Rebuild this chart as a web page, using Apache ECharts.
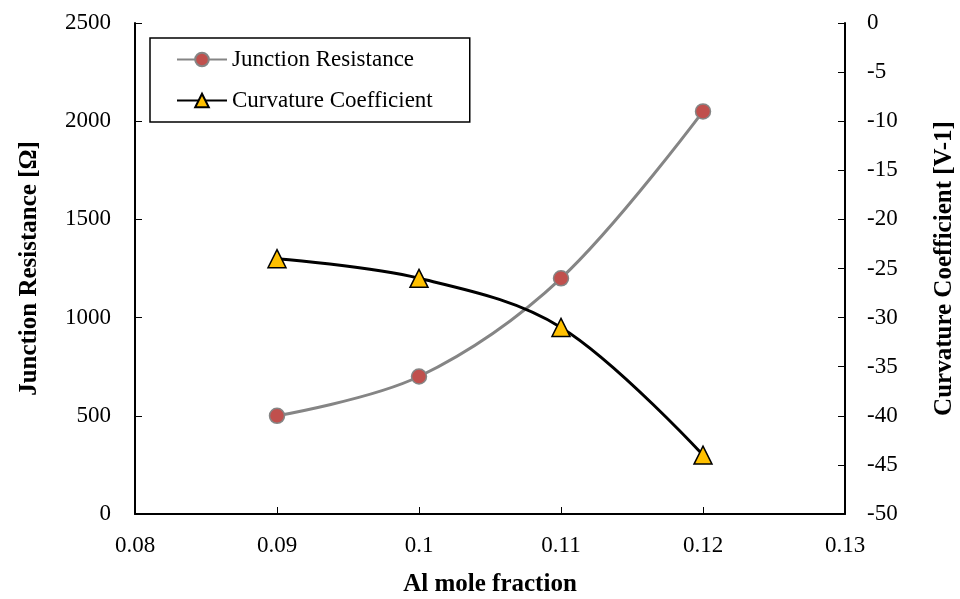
<!DOCTYPE html>
<html><head><meta charset="utf-8">
<script src="https://cdn.jsdelivr.net/npm/echarts@6/dist/echarts.min.js"></script>
<style>html,body{margin:0;padding:0;background:#fff}#c{width:960px;height:599px}</style>
</head><body><div id="c"></div>
<script>
const xValues = [0.09, 0.10, 0.11, 0.12];
const junctionResistance = [500, 700, 1200, 2050];
const curvatureCoefficient = [-24, -26, -31, -44];
const seriesNames = ['Junction Resistance', 'Curvature Coefficient'];

const F = 'Liberation Serif, Times New Roman, serif';
const chart = echarts.init(document.getElementById('c'));
const axisLine = {show: true, lineStyle: {color: '#000', width: 2}};
const tick = {show: true, inside: true, length: 7, lineStyle: {color: '#000', width: 1}};
const titleStyle = {fontFamily: F, fontSize: 25, fontWeight: 'bold', color: '#000'};
chart.setOption({
  animation: false,
  backgroundColor: '#fff',
  grid: {left: 135, right: 115, top: 23, bottom: 85, containLabel: false, outerBoundsMode: 'none'},
  legend: {
    left: 150, top: 38, orient: 'vertical',
    padding: [10, 37, 10, 26], itemGap: 18,
    borderColor: '#000', borderWidth: 1.5,
    itemWidth: 50, itemHeight: 17,
    textStyle: {fontFamily: F, fontSize: 23, color: '#000'},
    data: seriesNames
  },
  xAxis: {
    type: 'value', min: 0.08, max: 0.13, interval: 0.01,
    name: 'Al mole fraction', nameLocation: 'middle', nameGap: 58,
    nameTextStyle: titleStyle,
    axisLine: axisLine, axisTick: tick,
    splitLine: {show: false},
    axisLabel: {fontFamily: F, fontSize: 23, color: '#000', margin: 20,
      formatter: v => String(parseFloat(v.toFixed(2)))}
  },
  yAxis: [{
    type: 'value', min: 0, max: 2500, interval: 500, position: 'left',
    name: 'Junction Resistance [Ω]', nameLocation: 'middle', nameGap: 93, nameRotate: 90,
    nameTextStyle: titleStyle,
    axisLine: axisLine, axisTick: tick,
    splitLine: {show: false},
    axisLabel: {fontFamily: F, fontSize: 23, color: '#000', margin: 24,
      formatter: v => String(v)}
  }, {
    type: 'value', min: -50, max: 0, interval: 5, position: 'right',
    name: 'Curvature Coefficient [V-1]', nameLocation: 'middle', nameGap: 87, nameRotate: 90,
    nameTextStyle: titleStyle,
    axisLine: axisLine, axisTick: tick,
    splitLine: {show: false},
    axisLabel: {fontFamily: F, fontSize: 23, color: '#000', margin: 22,
      formatter: v => String(v)}
  }],
  series: [{
    name: seriesNames[0], type: 'line', yAxisIndex: 0, smooth: 0.35,
    data: xValues.map((x, i) => [x, junctionResistance[i]]),
    symbol: 'circle', symbolSize: 15,
    lineStyle: {color: '#858585', width: 3},
    itemStyle: {color: '#C0504D', borderColor: '#858585', borderWidth: 1.5}
  }, {
    name: seriesNames[1], type: 'line', yAxisIndex: 1, smooth: 0.35,
    data: xValues.map((x, i) => [x, curvatureCoefficient[i]]),
    symbol: 'triangle', symbolSize: 18,
    lineStyle: {color: '#000', width: 3},
    itemStyle: {color: '#FFC000', borderColor: '#000', borderWidth: 1.5}
  }]
});
</script></body></html>
